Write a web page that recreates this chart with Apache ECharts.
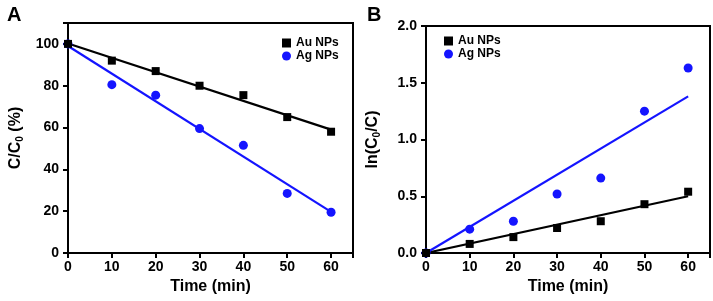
<!DOCTYPE html>
<html>
<head>
<meta charset="utf-8">
<script src="https://cdn.jsdelivr.net/npm/echarts@6/dist/echarts.min.js"></script>
<style>
  html, body { margin: 0; padding: 0; background: #fff; }
  #chart { width: 713px; height: 301px; }
</style>
</head>
<body>
<div id="chart"></div>
<script>
// Temps (min)
const temps = [0, 10, 20, 30, 40, 50, 60];

// Panneau A : C/C0 (%)
const auPourcent = [100, 92, 87, 80, 75.5, 65, 58];
const agPourcent = [100, 80.5, 75.5, 59.5, 51.5, 28.5, 19.5];
// Droites d'ajustement [x, y]
const auFitA = [[0, 100.2], [60, 59]];
const agFitA = [[0, 99], [60, 19.7]];

// Panneau B : ln(C0/C)
const auLn = [0, 0.08, 0.14, 0.22, 0.28, 0.43, 0.54];
const agLn = [0, 0.21, 0.28, 0.52, 0.66, 1.25, 1.63];
const auFitB = [[0, 0], [60, 0.50]];
const agFitB = [[0, 0], [60, 1.38]];

const BLEU = '#1414ff';
const NOIR = '#000000';
const POLICE = 'Liberation Sans, Arial, sans-serif';

const paires = (xs, ys) => xs.map((x, i) => [x, ys[i]]);

function axeX(gridIndex) {
    return {
        type: 'value', gridIndex: gridIndex,
        min: 0, max: 65, interval: 10,
        name: 'Time (min)', nameLocation: 'middle', nameGap: 25,
        nameTextStyle: { fontFamily: POLICE, fontWeight: 'bold', fontSize: 16, color: NOIR },
        axisLine: { show: true, onZero: false, lineStyle: { color: NOIR, width: 2 } },
        axisTick: { show: true, inside: false, length: 5, lineStyle: { color: NOIR, width: 2 } },
        axisLabel: { fontFamily: POLICE, fontWeight: 'bold', fontSize: 14, color: NOIR, margin: 7,
            formatter: v => (v > 60 ? '' : v) },
        splitLine: { show: false }
    };
}

function axeY(gridIndex, max, interval, nom, decimales, plafond) {
    return {
        type: 'value', gridIndex: gridIndex,
        min: 0, max: max, interval: interval,
        name: nom, nameLocation: 'middle', nameGap: decimales ? 44 : 43,
        nameTextStyle: {
            fontFamily: POLICE, fontWeight: 'bold', fontSize: 16, color: NOIR,
            rich: {
                a: { fontFamily: POLICE, fontWeight: 'bold', fontSize: 16, color: NOIR },
                s: { fontFamily: POLICE, fontWeight: 'bold', fontSize: 10, color: NOIR, padding: [9, 0, 0, 0] }
            }
        },
        axisLine: { show: true, lineStyle: { color: NOIR, width: 2 } },
        axisTick: { show: true, inside: false, length: 5, lineStyle: { color: NOIR, width: 2 } },
        axisLabel: { fontFamily: POLICE, fontWeight: 'bold', fontSize: 14, color: NOIR, margin: 9,
            formatter: v => (v > plafond ? '' : (decimales ? v.toFixed(1) : String(v))) },
        splitLine: { show: false }
    };
}

function droite(nom, idx, data, couleur) {
    return {
        name: nom, type: 'line', xAxisIndex: idx, yAxisIndex: idx,
        data: data, showSymbol: false, silent: true,
        lineStyle: { color: couleur, width: 2.2 }, z: 2
    };
}

function nuage(nom, idx, data, symbole, couleur) {
    return {
        name: nom, type: 'scatter', xAxisIndex: idx, yAxisIndex: idx,
        data: data, symbol: symbole, symbolSize: symbole === 'rect' ? 8 : 9,
        itemStyle: { color: couleur, opacity: 1 }, z: 3
    };
}

const legende = (left, top) => ({
    orient: 'vertical', left: left, top: top,
    itemWidth: 9, itemHeight: 9, itemGap: 1,
    textStyle: { fontFamily: POLICE, fontWeight: 'bold', fontSize: 12, color: NOIR },
    data: [
        { name: 'Au NPs', icon: 'rect' },
        { name: 'Ag NPs', icon: 'circle' }
    ],
    selectedMode: false
});

const chart = echarts.init(document.getElementById('chart'), null, { renderer: 'canvas' });

chart.setOption({
    animation: false,
    backgroundColor: '#fff',
    title: [
        { text: 'A', left: 2, top: 0, textStyle: { fontFamily: POLICE, fontWeight: 'bold', fontSize: 20, color: NOIR } },
        { text: 'B', left: 362, top: 0, textStyle: { fontFamily: POLICE, fontWeight: 'bold', fontSize: 20, color: NOIR } }
    ],
    grid: [
        { left: 68, top: 23, width: 285, height: 230, show: true, borderColor: NOIR, borderWidth: 2 },
        { left: 426, top: 26, width: 284, height: 227, show: true, borderColor: NOIR, borderWidth: 2 }
    ],
    legend: [
        legende(277, 32),
        legende(439, 30)
    ],
    xAxis: [axeX(0), axeX(1)],
    yAxis: [
        axeY(0, 110, 20, '{a|C/C}{s|0}{a| (%)}', false, 100),
        axeY(1, 2.0, 0.5, '{a|ln(C}{s|0}{a|/C)}', true, 2)
    ],
    series: [
        droite('fitAuA', 0, auFitA, NOIR),
        droite('fitAgA', 0, agFitA, BLEU),
        nuage('Ag NPs', 0, paires(temps, agPourcent), 'circle', BLEU),
        nuage('Au NPs', 0, paires(temps, auPourcent), 'rect', NOIR),
        droite('fitAuB', 1, auFitB, NOIR),
        droite('fitAgB', 1, agFitB, BLEU),
        nuage('Ag NPs', 1, paires(temps, agLn), 'circle', BLEU),
        nuage('Au NPs', 1, paires(temps, auLn), 'rect', NOIR)
    ]
});
</script>
</body>
</html>
